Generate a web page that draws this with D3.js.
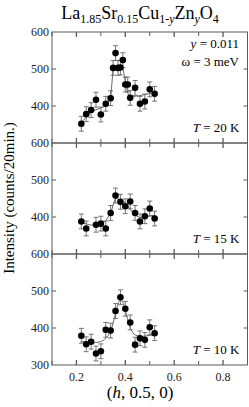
<!DOCTYPE html>
<html>
<head>
<meta charset="utf-8">
<script src="https://cdn.jsdelivr.net/npm/d3@7"></script>
<style>
  body { margin: 0; background: #fff; }
  svg { display: block; font-family: "Liberation Serif", "Times New Roman", serif; }
</style>
</head>
<body>
<div id="chart"></div>
<script>
// measured points, (h, 0.5, 0) scans
var h20 = [0.22, 0.24, 0.26, 0.28, 0.30, 0.32, 0.34, 0.35, 0.36, 0.37, 0.38, 0.39, 0.40, 0.41, 0.42, 0.44, 0.46, 0.48, 0.50, 0.52];
var i20 = [352, 378, 389, 417, 377, 406, 421, 503, 543, 503, 504, 524, 458, 458, 422, 449, 406, 412, 445, 433];
var h15 = [0.22, 0.24, 0.28, 0.30, 0.32, 0.34, 0.36, 0.38, 0.40, 0.42, 0.44, 0.46, 0.48, 0.50, 0.52];
var i15 = [388, 369, 379, 382, 369, 411, 458, 441, 429, 442, 411, 388, 402, 423, 396];
var h10 = [0.22, 0.24, 0.26, 0.28, 0.30, 0.32, 0.34, 0.36, 0.38, 0.40, 0.42, 0.44, 0.46, 0.48, 0.50, 0.52];
var i10 = [379, 356, 363, 331, 337, 395, 393, 446, 483, 452, 415, 355, 372, 368, 402, 386];
var errBar = 20;

// guide / fit lines
var fit20h = [0.22, 0.26, 0.32, 0.34, 0.35, 0.39, 0.41, 0.42, 0.46, 0.52];
var fit20i = [355, 385, 400, 420, 500, 502, 435, 425, 428, 437];
var fit15h = [0.22, 0.26, 0.30, 0.32, 0.34, 0.36, 0.38, 0.40, 0.42, 0.44, 0.46, 0.52];
var fit15i = [385, 378, 380, 390, 410, 452, 445, 438, 420, 405, 398, 405];
var fit10h = [0.22, 0.26, 0.30, 0.32, 0.34, 0.35, 0.36, 0.37, 0.38, 0.39, 0.40, 0.41, 0.42, 0.43, 0.44, 0.46, 0.48, 0.50, 0.52];
var fit10i = [364, 359, 362, 370, 390, 412, 440, 466, 479, 472, 449, 421, 400, 387, 380, 377, 378, 380, 382];

var xTicks = [0.2, 0.4, 0.6, 0.8];
var yTicksUpper = [600, 500, 400];
var yTicksLower = [600, 500, 400, 300];

var panels = [
    {h: h20, v: i20, fh: fit20h, fv: fit20i, label: "20 K", yTicks: yTicksUpper},
    {h: h15, v: i15, fh: fit15h, fv: fit15i, label: "15 K", yTicks: yTicksUpper},
    {h: h10, v: i10, fh: fit10h, fv: fit10i, label: "10 K", yTicks: yTicksLower}
];

var width = 249, height = 407;
var margin = {top: 32, right: 1.5, bottom: 42, left: 52};
var plotW = width - margin.left - margin.right;
var panelH = (height - margin.top - margin.bottom) / panels.length;
var axisColor = "#5a5a5a";

var svg = d3.select("#chart").append("svg")
    .attr("width", width)
    .attr("height", height);

var x = d3.scaleLinear().domain([0.1, 0.9]).range([margin.left, margin.left + plotW]);

panels.forEach(function(p, k) {
    var top = margin.top + k * panelH;
    var y = d3.scaleLinear().domain([300, 600]).range([top + panelH, top]);
    var g = svg.append("g");

    // frame
    g.append("rect")
        .attr("x", margin.left).attr("y", top)
        .attr("width", plotW).attr("height", panelH)
        .attr("fill", "none").attr("stroke", axisColor).attr("stroke-width", 1);

    // x ticks, inside top and bottom
    var xt = d3.range(1, 10).map(function(d) { return d / 10; });
    [top, top + panelH].forEach(function(edge, j) {
        g.selectAll(null).data(xt).enter().append("line")
            .attr("x1", function(d) { return x(d); })
            .attr("x2", function(d) { return x(d); })
            .attr("y1", edge)
            .attr("y2", function(d) {
                var len = (Math.round(d * 10) % 2 === 0) ? 5 : 4;
                return j === 0 ? edge + len : edge - len;
            })
            .attr("stroke", axisColor).attr("stroke-width", function(d) {
                return (Math.round(d * 10) % 2 === 0) ? 1.3 : 1;
            });
    });

    // y ticks left and right
    var yt = [400, 500];
    [margin.left, margin.left + plotW].forEach(function(edge, j) {
        g.selectAll(null).data(yt).enter().append("line")
            .attr("x1", edge)
            .attr("x2", j === 0 ? edge + 4 : edge - 4)
            .attr("y1", function(d) { return y(d); })
            .attr("y2", function(d) { return y(d); })
            .attr("stroke", axisColor);
    });

    // y tick labels
    g.selectAll(null).data(p.yTicks).enter().append("text")
        .attr("x", margin.left - 3)
        .attr("y", function(d) { return y(d) + 4; })
        .attr("text-anchor", "end")
        .attr("font-size", 12)
        .attr("fill", "#222")
        .text(function(d) { return d; });

    // fit line
    var line = d3.line()
        .x(function(d, i) { return x(p.fh[i]); })
        .y(function(d) { return y(d); })
        .curve(k === 2 ? d3.curveBasis : d3.curveLinear);
    g.append("path")
        .attr("d", line(p.fv))
        .attr("fill", "none")
        .attr("stroke", "#444")
        .attr("stroke-width", 0.8);

    // error bars
    var eb = g.selectAll(null).data(p.v).enter().append("g")
        .attr("stroke", "#666").attr("stroke-width", 0.9);
    eb.append("line")
        .attr("x1", function(d, i) { return x(p.h[i]); })
        .attr("x2", function(d, i) { return x(p.h[i]); })
        .attr("y1", function(d) { return y(d - errBar); })
        .attr("y2", function(d) { return y(d + errBar); });
    [-errBar, errBar].forEach(function(e) {
        eb.append("line")
            .attr("x1", function(d, i) { return x(p.h[i]) - 2.5; })
            .attr("x2", function(d, i) { return x(p.h[i]) + 2.5; })
            .attr("y1", function(d) { return y(d + e); })
            .attr("y2", function(d) { return y(d + e); });
    });

    // points
    g.selectAll(null).data(p.v).enter().append("circle")
        .attr("cx", function(d, i) { return x(p.h[i]); })
        .attr("cy", function(d) { return y(d); })
        .attr("r", 3.3)
        .attr("fill", "#000");

    // temperature label
    var t = g.append("text")
        .attr("x", margin.left + plotW - 8)
        .attr("y", top + panelH - 11)
        .attr("text-anchor", "end")
        .attr("font-size", 13);
    t.append("tspan").attr("font-style", "italic").text("T");
    t.append("tspan").text(" = " + p.label);
});

// x axis labels
var bottom = margin.top + panels.length * panelH;
svg.selectAll(null).data(xTicks).enter().append("text")
    .attr("x", function(d) { return x(d); })
    .attr("y", bottom + 16)
    .attr("text-anchor", "middle")
    .attr("font-size", 12)
    .attr("fill", "#222")
    .text(function(d) { return d.toFixed(1); });

var xl = svg.append("text")
    .attr("x", 140).attr("y", bottom + 33)
    .attr("text-anchor", "middle")
    .attr("font-size", 17);
xl.append("tspan").text("(");
xl.append("tspan").attr("font-style", "italic").text("h");
xl.append("tspan").text(", 0.5, 0)");

// y axis label
svg.append("text")
    .attr("transform", "translate(14," + 198 + ") rotate(-90)")
    .attr("text-anchor", "middle")
    .attr("font-size", 15)
    .text("Intensity (counts/20min.)");

// composition annotation
var a1 = svg.append("text")
    .attr("x", 239).attr("y", 48)
    .attr("text-anchor", "end").attr("font-size", 13);
a1.append("tspan").attr("font-style", "italic").text("y");
a1.append("tspan").text(" = 0.011");
svg.append("text")
    .attr("x", 239).attr("y", 66)
    .attr("text-anchor", "end").attr("font-size", 13)
    .text("\u03c9 = 3 meV");

// title
var title = svg.append("text")
    .attr("x", 140).attr("y", 19)
    .attr("text-anchor", "middle")
    .attr("font-size", 18);
var parts = [
    ["La", 0, false], ["1.85", 1, false], ["Sr", 0, false], ["0.15", 1, false],
    ["Cu", 0, false], ["1-", 1, false], ["y", 1, true], ["Zn", 0, false],
    ["y", 1, true], ["O", 0, false], ["4", 1, false]
];
var prevSub = 0;
parts.forEach(function(pt) {
    var dy = (pt[1] - prevSub) * 4;
    title.append("tspan")
        .attr("dy", dy)
        .attr("font-size", pt[1] ? 12 : 18)
        .attr("font-style", pt[2] ? "italic" : null)
        .text(pt[0]);
    prevSub = pt[1];
});
</script>
</body>
</html>
